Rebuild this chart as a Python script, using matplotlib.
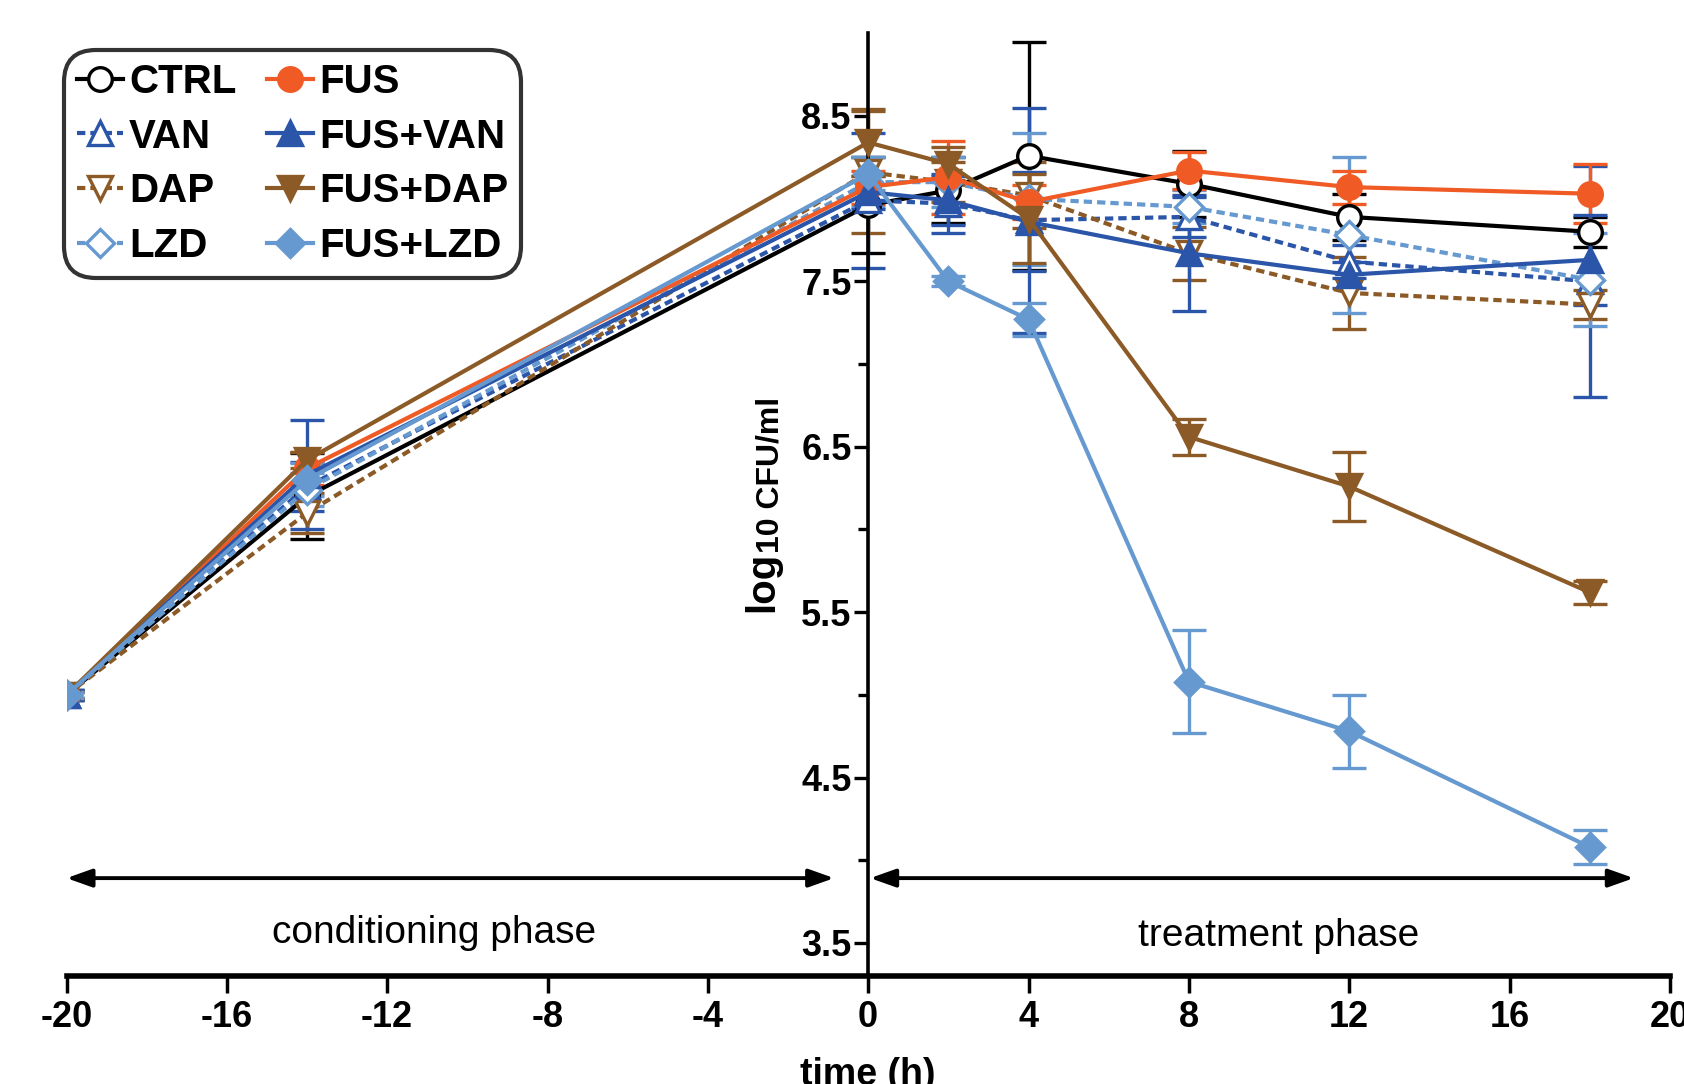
import matplotlib
matplotlib.use("Agg")
from matplotlib import pyplot as plt
from matplotlib.lines import Line2D

plt.rcParams['font.family'] = ['Liberation Sans', 'DejaVu Sans']
plt.rcParams['axes.unicode_minus'] = False

# sampling times (h)
time = [-20, -14, 0, 2, 4, 8, 12, 18]

ctrl = [5.0, 6.20, 7.96, 8.05, 8.26, 8.09, 7.89, 7.80]
ctrl_err = [0.03, 0.26, 0.29, 0.20, 0.69, 0.20, 0.14, 0.09]

fus = [5.0, 6.37, 8.07, 8.13, 7.98, 8.17, 8.07, 8.03]
fus_err = [0.02, 0.10, 0.10, 0.22, 0.10, 0.11, 0.10, 0.18]

van = [5.0, 6.26, 7.99, 7.97, 7.87, 7.89, 7.62, 7.50]
van_err = [0.03, 0.15, 0.41, 0.18, 0.68, 0.12, 0.10, 0.70]

fus_van = [5.0, 6.33, 8.04, 7.99, 7.86, 7.67, 7.54, 7.63]
fus_van_err = [0.03, 0.33, 0.10, 0.15, 0.30, 0.35, 0.08, 0.27]

dap = [5.0, 6.10, 8.16, 8.10, 8.02, 7.67, 7.43, 7.36]
dap_err = [0.02, 0.12, 0.37, 0.12, 0.20, 0.16, 0.22, 0.09]

fus_dap = [5.0, 6.42, 8.34, 8.21, 7.88, 6.56, 6.26, 5.62]
fus_dap_err = [0.02, 0.05, 0.20, 0.10, 0.27, 0.11, 0.21, 0.07]

lzd = [5.0, 6.24, 8.10, 8.10, 8.00, 7.95, 7.78, 7.51]
lzd_err = [0.02, 0.10, 0.15, 0.15, 0.40, 0.10, 0.47, 0.28]

fus_lzd = [5.0, 6.30, 8.15, 7.50, 7.27, 5.08, 4.78, 4.08]
fus_lzd_err = [0.02, 0.10, 0.10, 0.03, 0.10, 0.31, 0.22, 0.10]

black = '#000000'
orange = '#F05A24'
dblue = '#2A55A8'
brown = '#8B5A26'
lblue = '#6699CF'
dash = (0, (2.0, 1.2))

# label, values, errors, color, marker, open?, linestyle
series = [
    ("CTRL", ctrl, ctrl_err, black, 'o', True, '-'),
    ("VAN", van, van_err, dblue, '^', True, dash),
    ("DAP", dap, dap_err, brown, 'v', True, dash),
    ("LZD", lzd, lzd_err, lblue, 'D', True, dash),
    ("FUS", fus, fus_err, orange, 'o', False, '-'),
    ("FUS+VAN", fus_van, fus_van_err, dblue, '^', False, '-'),
    ("FUS+DAP", fus_dap, fus_dap_err, brown, 'v', False, '-'),
    ("FUS+LZD", fus_lzd, fus_lzd_err, lblue, 'D', False, '-'),
]

fig = plt.figure(figsize=(16.84, 10.84), dpi=100)
ax = fig.add_axes([0.0395, 0.0996, 0.9521, 0.8697])

handles = []
for name, vals, err, col, mk, hollow, ls in series:
    ms = 14 if mk == 'D' else 17
    face = 'white' if hollow else col
    ax.errorbar(time, vals, yerr=err, fmt='none', ecolor=col, elinewidth=2.4,
                capsize=12, capthick=2.4, zorder=2)
    ax.plot(time, vals, color=col, linestyle=ls, lw=3.0, marker=mk, ms=ms,
            markerfacecolor=face, markeredgecolor=col, markeredgewidth=2.4, zorder=3)
    handles.append(Line2D([], [], color=col, linestyle=ls, lw=3.0, marker=mk, ms=ms,
                          markerfacecolor=face, markeredgecolor=col, markeredgewidth=2.4))

ax.set_xlim(-20, 20)
ax.set_ylim(3.3, 9.0)
ax.set_xticks(range(-20, 21, 4))
ax.set_yticks([3.5, 4.5, 5.5, 6.5, 7.5, 8.5])
ax.set_yticks([4.0, 5.0, 6.0, 7.0, 8.0], minor=True)

ax.spines['top'].set_visible(False)
ax.spines['right'].set_visible(False)
ax.spines['left'].set_position(('data', 0))
ax.spines['left'].set_linewidth(2.6)
ax.spines['bottom'].set_linewidth(4)

ax.tick_params(axis='x', direction='out', length=12, width=2.5, labelsize=26, pad=5)
ax.tick_params(axis='y', which='major', direction='out', length=10, width=2.4, labelsize=26, pad=2)
ax.tick_params(axis='y', which='minor', direction='out', length=7, width=2.4)
for lab in ax.get_xticklabels() + ax.get_yticklabels():
    lab.set_fontweight('bold')

ax.set_xlabel("time (h)", fontsize=27, fontweight='bold', labelpad=16)

# y label drawn as two pieces: "log" and the smaller "10 CFU/ml"
ax.text(-2.65, 5.50, "log", rotation=90, fontsize=29, fontweight='bold',
        ha='center', va='bottom')
ax.text(-2.43, 5.86, "10 CFU/ml", rotation=90, fontsize=23, fontweight='bold',
        ha='center', va='bottom')

# phase arrows
ax.annotate('', xy=(-20, 3.892), xytext=(-0.85, 3.892),
            arrowprops=dict(arrowstyle='<|-|>,head_length=0.45,head_width=0.16',
                            color='black', lw=2.8, mutation_scale=34, shrinkA=0, shrinkB=0))
ax.annotate('', xy=(0.05, 3.892), xytext=(19.1, 3.892),
            arrowprops=dict(arrowstyle='<|-|>,head_length=0.45,head_width=0.16',
                            color='black', lw=2.8, mutation_scale=34, shrinkA=0, shrinkB=0))
ax.text(-10.83, 3.56, "conditioning phase", fontsize=28, ha='center', va='center')
ax.text(10.24, 3.545, "treatment phase", fontsize=28, ha='center', va='center')

leg = ax.legend(handles, [s[0] for s in series], ncol=2, loc='upper left',
                bbox_to_anchor=(0.0034, 0.974), borderaxespad=0,
                prop={'weight': 'bold', 'size': 29}, handlelength=1.15,
                handletextpad=0.15, columnspacing=0.75, labelspacing=0.42,
                borderpad=0.12, numpoints=1, frameon=True, fancybox=True)
leg.get_frame().set_edgecolor('black')
leg.get_frame().set_linewidth(3)
leg.get_frame().set_boxstyle('round,pad=0.2,rounding_size=0.8')
leg.set_zorder(5)

fig.savefig("out.png", dpi=100, facecolor='white')
